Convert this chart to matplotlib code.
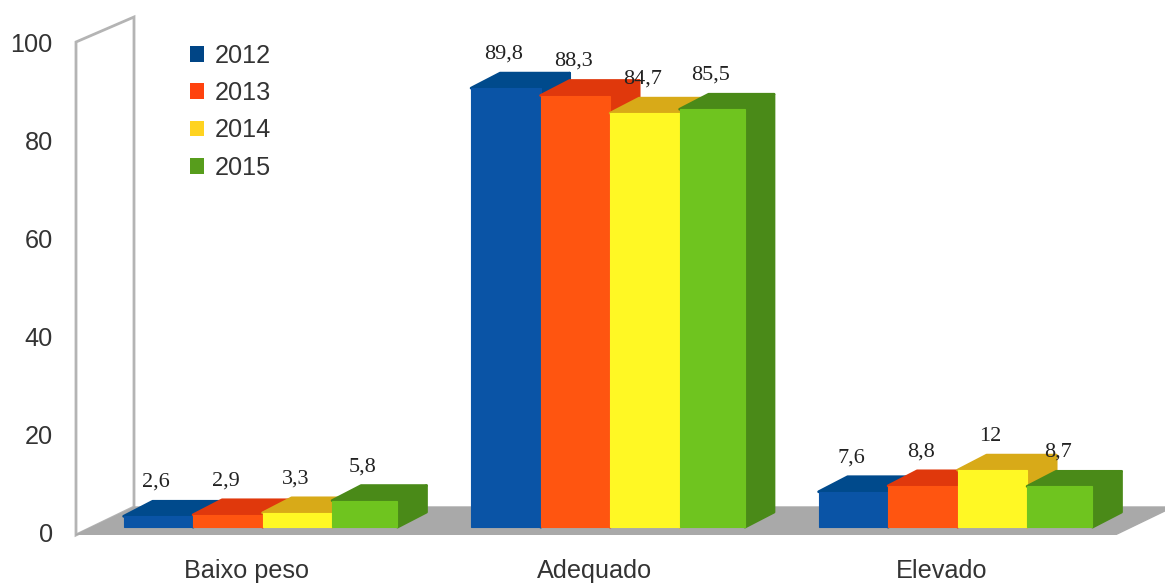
import numpy as np
from matplotlib import pyplot as plt
from matplotlib.patches import Patch, Polygon

categories = ["Baixo peso", "Adequado", "Elevado"]
years = ["2012", "2013", "2014", "2015"]
values_2012 = [2.6, 89.8, 7.6]
values_2013 = [2.9, 88.3, 8.8]
values_2014 = [3.3, 84.7, 12]
values_2015 = [5.8, 85.5, 8.7]
value_labels_2012 = ["2,6", "89,8", "7,6"]
value_labels_2013 = ["2,9", "88,3", "8,8"]
value_labels_2014 = ["3,3", "84,7", "12"]
value_labels_2015 = ["5,8", "85,5", "8,7"]
y_ticks = [0, 20, 40, 60, 80, 100]

front_colors = ['#0a54a6', '#ff5510', '#fff824', '#6fc41f']
shade_colors = ['#004a8c', '#e0380c', '#d8aa18', '#4a8a18']
legend_colors = ['#004586', '#ff420e', '#ffd320', '#579d1c']
gray = '#a9a9a9'

W, H = 1165, 583
X_SCALE = 347.5  # px per category
Y_SCALE = 4.91  # px per unit

# 3D look: depth offset of the bars and of the floor, in data units
DX = 29 / X_SCALE
DY = 15 / Y_SCALE
BAR_W = [0.2, 0.2, 0.2, 0.188]
BAR_START = -0.355
BAR_BOTTOM = 1.2
TOP_SHIFT = 0.8


def px_x(px):
    return (px - 247) / X_SCALE


def px_y(py):
    return (533 - py) / Y_SCALE


def draw_bar(ax, left, width, value, label, front, shade):
    right = left + width
    top = value + TOP_SHIFT
    edge = dict(linewidth=2, joinstyle='round')

    side = [(right, BAR_BOTTOM), (right + DX, BAR_BOTTOM + DY), (right + DX, top + DY), (right, top)]
    roof = [(left, top), (left + DX, top + DY), (right + DX, top + DY), (right, top)]
    ax.add_patch(Polygon(side, closed=True, facecolor=shade, edgecolor=shade, **edge))
    ax.add_patch(Polygon(roof, closed=True, facecolor=shade, edgecolor=shade, **edge))
    ax.bar(left, top - BAR_BOTTOM, width=width, bottom=BAR_BOTTOM, align='edge',
           color=front, edgecolor=front, linewidth=0.8)

    ax.annotate(label, (left + width / 2, top), xytext=(-1.5, 24.5), textcoords='offset points',
                ha='center', va='center', fontsize=16, family='Liberation Serif', color='#222222',
                zorder=10)


fig = plt.figure(figsize=(W / 100, H / 100), dpi=100)
ax = fig.add_axes([75 / W, (H - 535) / H, (W - 75) / W, 535 / H])
ax.set_xlim(px_x(75), px_x(W))
ax.set_ylim(px_y(535), px_y(0))
for spine in ax.spines.values():
    spine.set_visible(False)

# floor and side wall
floor = [(px_x(76), px_y(535)), (px_x(135), px_y(507)), (px_x(1173), px_y(507)), (px_x(1115), px_y(535))]
wall = [(px_x(76), px_y(535)), (px_x(76), px_y(42)), (px_x(134), px_y(17)), (px_x(134), px_y(507))]
ax.add_patch(Polygon(wall, closed=True, facecolor='white', edgecolor='#b4b4b4', linewidth=2, clip_on=False))
ax.add_patch(Polygon(floor, closed=True, facecolor=gray, edgecolor=gray, linewidth=1))

series = [values_2012, values_2013, values_2014, values_2015]
series_labels = [value_labels_2012, value_labels_2013, value_labels_2014, value_labels_2015]

for c in range(len(categories)):
    for s in range(len(years)):
        left = c + BAR_START + 0.2 * s
        draw_bar(ax, left, BAR_W[s], series[s][c], series_labels[s][c], front_colors[s], shade_colors[s])

ax.set_xticks(range(len(categories)))
ax.set_xticklabels(categories)
ax.set_yticks(y_ticks)
ax.tick_params(axis='both', length=0, labelsize=18.2, labelcolor='#333333',
               labelfontfamily='Liberation Sans')
ax.tick_params(axis='x', pad=17.5)
ax.tick_params(axis='y', pad=16)

handles = [Patch(facecolor=legend_colors[i], edgecolor='none', label=years[i]) for i in range(len(years))]
leg = ax.legend(handles=handles, loc='upper left', bbox_to_anchor=(182 / W, 1 - 36 / H),
                bbox_transform=fig.transFigure, borderaxespad=0, borderpad=0.3, frameon=False,
                handlelength=0.58, handleheight=0.58, handletextpad=0.42, labelspacing=0.53,
                prop={'family': 'Liberation Sans', 'size': 18.2})
for text in leg.get_texts():
    text.set_color('#333333')

plt.savefig('out.png', dpi=100)
